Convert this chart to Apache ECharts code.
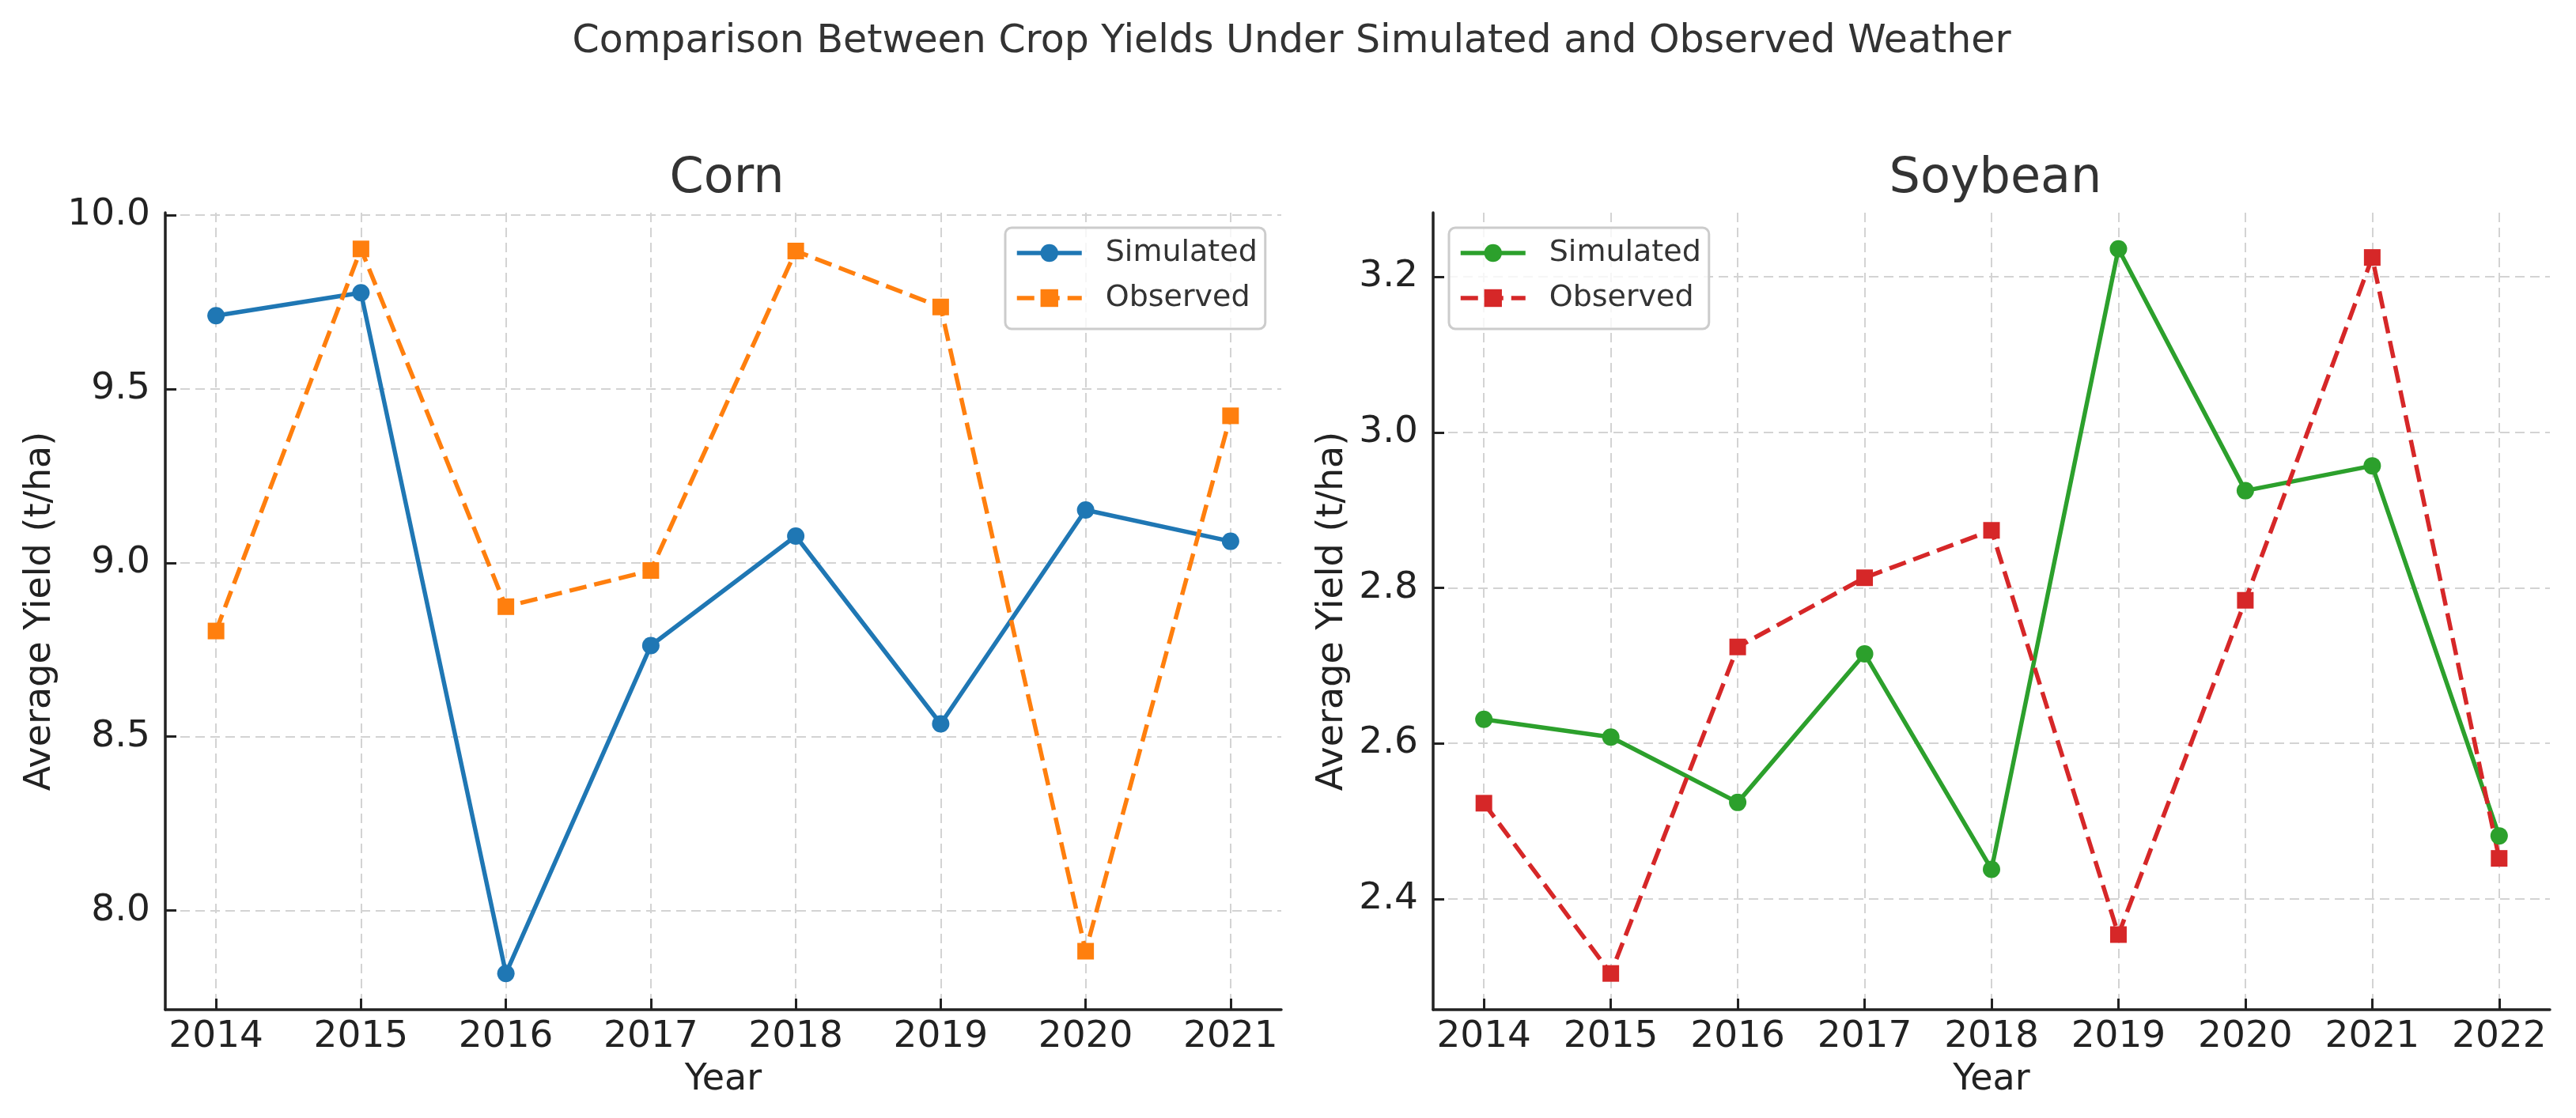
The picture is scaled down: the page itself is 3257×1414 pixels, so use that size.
<!DOCTYPE html>
<html>
<head>
<meta charset="utf-8">
<script src="https://cdn.jsdelivr.net/npm/echarts@6/dist/echarts.min.js"></script>
<style>
html,body{margin:0;padding:0;background:#fff;}
#chart{width:3257px;height:1414px;}
</style>
</head>
<body>
<div id="chart"></div>
<script>
const cornYears = [2014, 2015, 2016, 2017, 2018, 2019, 2020, 2021];
const cornSimulated = [9.711, 9.777, 7.819, 8.762, 9.077, 8.537, 9.152, 9.062];
const cornObserved = [8.804, 9.903, 8.874, 8.978, 9.897, 9.736, 7.883, 9.423];
const cornYTicks = [8.0, 8.5, 9.0, 9.5, 10.0];

const soyYears = [2014, 2015, 2016, 2017, 2018, 2019, 2020, 2021, 2022];
const soySimulated = [2.631, 2.608, 2.524, 2.715, 2.438, 3.236, 2.925, 2.957, 2.481];
const soyObserved = [2.523, 2.304, 2.724, 2.813, 2.874, 2.354, 2.784, 3.225, 2.452];
const soyYTicks = [2.4, 2.6, 2.8, 3.0, 3.2];

const FONT = 'DejaVu Sans';
function pad(arr) {
  const lo = Math.min(...arr), hi = Math.max(...arr), m = (hi - lo) * 0.05;
  return [lo - m, hi + m];
}
const cornX = pad(cornYears), soyX = pad(soyYears);
const cornY = pad(cornSimulated.concat(cornObserved));
const soyY = pad(soySimulated.concat(soyObserved));

const gridLine = {show: true, lineStyle: {color: '#d3d3d3', width: 2, type: [12, 7]}};
const axisLineStyle = {show: true, onZero: false, lineStyle: {color: '#222', width: 3.5}};
const tick = {show: true, inside: true, length: 14, lineStyle: {color: '#222', width: 3}};

function xAxis(gridIndex, ext, years) {
  return {
    type: 'value', gridIndex, min: ext[0], max: ext[1], minInterval: 1, maxInterval: 1,
    name: 'Year', nameLocation: 'middle', nameGap: 66,
    nameTextStyle: {fontFamily: FONT, fontSize: 46, color: '#222'},
    axisLine: axisLineStyle,
    axisTick: Object.assign({customValues: years}, tick),
    axisLabel: {customValues: years, fontFamily: FONT, fontSize: 47, color: '#222', margin: 11,
      formatter: v => Number.isInteger(v) ? String(v) : ''},
    splitLine: gridLine
  };
}
function yAxis(gridIndex, ext, ticks, gap) {
  return {
    type: 'value', gridIndex, min: ext[0], max: ext[1],
    name: 'Average Yield (t/ha)', nameLocation: 'middle', nameGap: gap, nameRotate: 90,
    nameTextStyle: {fontFamily: FONT, fontSize: 46, color: '#222'},
    axisLine: axisLineStyle,
    axisTick: Object.assign({customValues: ticks}, tick),
    axisLabel: {customValues: ticks, fontFamily: FONT, fontSize: 47, color: '#222', margin: 19,
      formatter: v => v.toFixed(1)},
    splitLine: gridLine
  };
}
function legend(left, top, names) {
  return {
    orient: 'vertical', left, top, data: names,
    padding: [9, 10, 16, 12], itemGap: 11, itemWidth: 82, itemHeight: 28,
    backgroundColor: 'rgba(255,255,255,0.8)', borderColor: '#cccccc', borderWidth: 3, borderRadius: 8,
    lineStyle: {width: 5.5},
    formatter: n => n.split(' ')[1],
    textStyle: {fontFamily: FONT, fontSize: 38, color: '#333', lineHeight: 46, padding: [0, 0, 0, 25]}
  };
}
function series(name, xi, years, vals, color, dashed, symbol) {
  return {
    name, type: 'line', xAxisIndex: xi, yAxisIndex: xi,
    data: years.map((y, i) => [y, vals[i]]),
    symbol, symbolSize: symbol === 'rect' ? 21 : 22,
    itemStyle: {color},
    lineStyle: {color, width: 5.5, type: dashed ? [22, 10] : 'solid'},
    animation: false
  };
}

const chart = echarts.init(document.getElementById('chart'));
chart.setOption({
  backgroundColor: '#fff',
  animation: false,
  title: [
    {text: 'Comparison Between Crop Yields Under Simulated and Observed Weather', left: 1628, top: 24, textAlign: 'center',
      textStyle: {fontFamily: FONT, fontSize: 49, fontWeight: 'normal', color: '#333'}},
    {text: 'Corn', left: 914, top: 191, textAlign: 'center', textStyle: {fontFamily: FONT, fontSize: 62, fontWeight: 'normal', color: '#333'}},
    {text: 'Soybean', left: 2518, top: 191, textAlign: 'center', textStyle: {fontFamily: FONT, fontSize: 62, fontWeight: 'normal', color: '#333'}}
  ],
  grid: [
    {left: 209, right: 1637, top: 269, bottom: 137},
    {left: 1812, right: 33, top: 269, bottom: 137}
  ],
  legend: [
    legend(1271, 288, ['Corn Simulated', 'Corn Observed']),
    legend(1832, 288, ['Soybean Simulated', 'Soybean Observed'])
  ],
  xAxis: [xAxis(0, cornX, cornYears), xAxis(1, soyX, soyYears)],
  yAxis: [yAxis(0, cornY, cornYTicks, 135), yAxis(1, soyY, soyYTicks, 104)],
  series: [
    series('Corn Simulated', 0, cornYears, cornSimulated, '#1f77b4', false, 'circle'),
    series('Corn Observed', 0, cornYears, cornObserved, '#ff7f0e', true, 'rect'),
    series('Soybean Simulated', 1, soyYears, soySimulated, '#2ca02c', false, 'circle'),
    series('Soybean Observed', 1, soyYears, soyObserved, '#d62728', true, 'rect')
  ]
});
</script>
</body>
</html>
